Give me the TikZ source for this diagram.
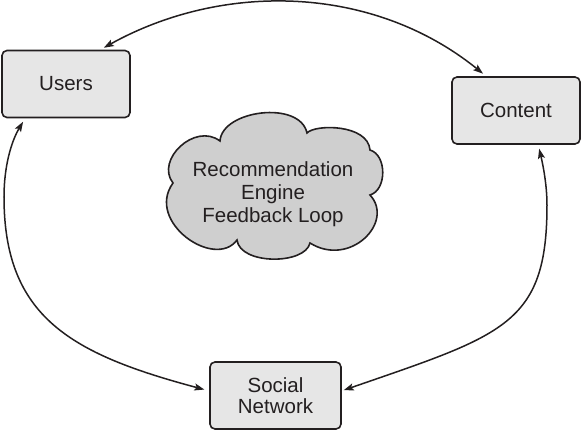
\documentclass[tikz,border=0pt]{standalone}
\usepackage{fontspec}
\setmainfont{Liberation Sans}
\usetikzlibrary{arrows.meta}
\definecolor{boxfill}{RGB}{230,230,230}
\definecolor{cloudfill}{RGB}{207,207,207}
\definecolor{edgecol}{RGB}{35,31,32}
\begin{document}
\begin{tikzpicture}[x=1pt,y=-1pt,
  every node/.style={font=\fontsize{20.5}{23}\selectfont, text=edgecol},
  box/.style={draw=edgecol, line width=1.6pt, fill=boxfill, rounded corners=5pt,
    minimum width=128pt, minimum height=67pt, inner sep=0pt, align=center},
  cloudline/.style={draw=edgecol, line width=1.6pt, fill=cloudfill},
  link/.style={draw=edgecol, line width=1.5pt,
    {Stealth[length=10pt,width=7pt,inset=2pt]}-{Stealth[length=10pt,width=7pt,inset=2pt]}}]
\useasboundingbox (0,0) rectangle (582,431);
\node[box] (users) at (66,84) {Users};
\node[box] (content) at (516,110.5) {Content};
\node[box, minimum width=131pt, font=\fontsize{20.5}{21}\selectfont] (social) at (275.5,395.5) {Social\\Network};
% cloud outline
\path[cloudline] (173,183)
  .. controls (155,160) and (195,122) .. (220,141)
  .. controls (222,110) and (300,100) .. (307,133)
  .. controls (315,124) and (368,124) .. (370,150)
  .. controls (387,155) and (387,190) .. (370,195)
  .. controls (395,222) and (350,268) .. (310,243)
  .. controls (305,265) and (240,265) .. (237,240)
  .. controls (215,270) and (145,222) .. cycle;
\node[anchor=base, align=center, inner sep=0pt] (loop) at (273,222.5) {Recommendation\\Engine\\Feedback Loop};
\draw[link, shorten <=4pt, shorten >=4pt] (users.45) .. controls (222,-18) and (372,-16) .. (content.131);
\draw[link, shorten <=4pt, shorten >=5pt] (users.220) .. controls (11,142) and (4,167) .. (4,197)
  .. controls (4,317) and (71,354) .. (social.176);
\draw[link, shorten <=4pt, shorten >=2pt] (content.303) .. controls (543,165) and (547,185) .. (547,205)
  .. controls (547,325) and (503,335) .. (social.4);
\end{tikzpicture}
\end{document}
